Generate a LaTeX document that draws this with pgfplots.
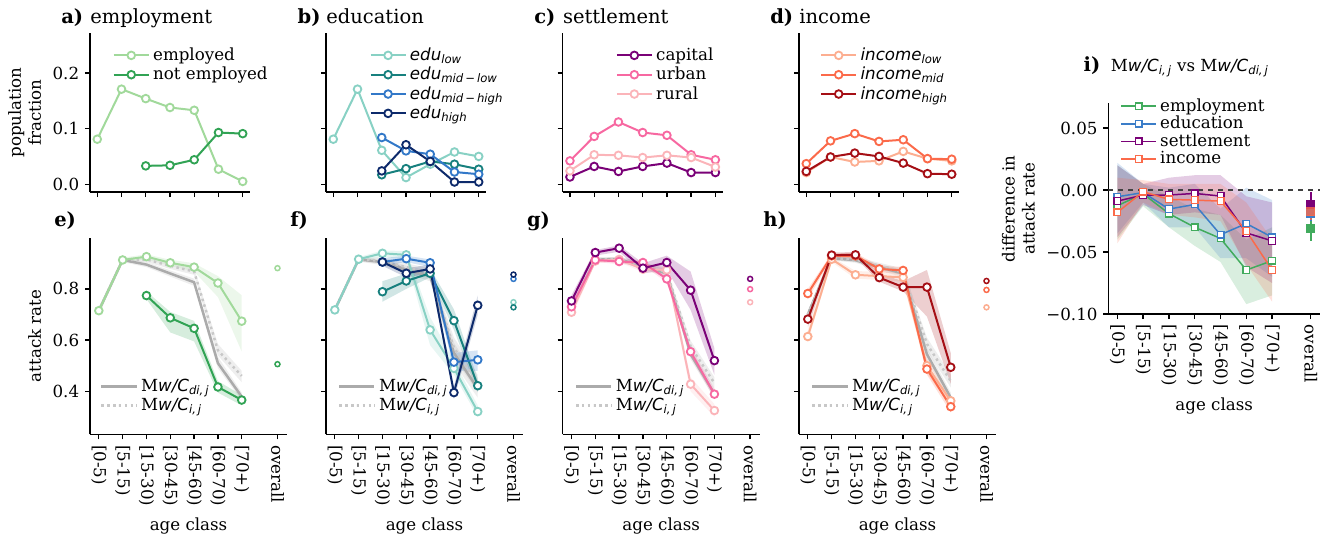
\documentclass[border=0pt]{standalone}
\usepackage{fontspec}
\setmainfont{DejaVu Serif}
\setsansfont{DejaVu Sans}
\usepackage{pgfplots}
\pgfplotsset{compat=1.18}
\usepackage{pgfplotstable}
\usepgfplotslibrary{fillbetween}

\definecolor{empA}{HTML}{A1D99B}
\definecolor{empB}{HTML}{31A354}
\definecolor{eduA}{HTML}{88D1C4}
\definecolor{eduB}{HTML}{17807E}
\definecolor{eduC}{HTML}{3278C8}
\definecolor{eduD}{HTML}{0D2A6B}
\definecolor{setA}{HTML}{7A0177}
\definecolor{setB}{HTML}{F768A1}
\definecolor{setC}{HTML}{FBB4B9}
\definecolor{incA}{HTML}{FCAE91}
\definecolor{incB}{HTML}{FB6A4A}
\definecolor{incC}{HTML}{A50F15}
\definecolor{iEmp}{HTML}{41AB5D}
\definecolor{iEdu}{HTML}{3B7DC8}
\definecolor{iSet}{HTML}{7A0177}
\definecolor{iInc}{HTML}{FB6A4A}
\definecolor{mgray}{HTML}{ABABAB}
\definecolor{lgray}{HTML}{C8C8C8}

\newcommand\lab{\fontsize{10}{12}\selectfont}
\newcommand\ttl{\fontsize{11.7}{14}\selectfont}
\newcommand\mi[1]{{\sffamily\itshape #1}}
\newcommand\MwCdi{M\mi{w/C\textsubscript{di,\,j}}}
\newcommand\MwCi{M\mi{w/C\textsubscript{i,\,j}}}

\pgfplotsset{
 every axis/.append style={scale only axis, anchor=south west, axis lines=left,
   axis line style={-, line width=0.8pt, black}, tick align=outside, major tick length=3pt,
   tick style={line width=0.8pt, black}, tick label style={font=\lab}, label style={font=\lab},
   legend style={font=\lab, draw=none, fill=none, legend cell align=left, inner sep=0pt, anchor=north west, row sep=-1.5pt},
   legend image code/.code={\draw[mark repeat=2,mark phase=2,##1] plot coordinates {(0cm,0cm) (0.37cm,0cm) (0.74cm,0cm)};}},
 toprow/.style={width=96pt, height=95.4pt, xmin=-0.3, xmax=6.3, ymin=-0.014, ymax=0.272,
   xtick={0,...,6}, xticklabels={}, ytick={0,0.1,0.2}},
 botrow/.style={width=118.2pt, height=118pt, xmin=-0.37, xmax=7.9, ymin=0.232, ymax=1.0,
   xtick={0,1,2,3,4,5,6,7.5},
   xticklabels={{[0-5)},{[5-15)},{[15-30)},{[30-45)},{[45-60)},{[60-70)},{[70+)},{overall}},
   xticklabel style={rotate=-90, anchor=west}, ytick={0.4,0.6,0.8}, xlabel={age class}},
 ln/.style={line width=1.2pt, mark=*, mark size=2.3pt, mark options={fill=white, line width=1.1pt, solid}},
 gsol/.style={color=mgray, line width=1.5pt, no marks},
 gdot/.style={color=lgray, line width=1.5pt, no marks, dash pattern=on 1.5pt off 2pt},
}
\newcommand\band[3]{%
 \addplot[draw=none, forget plot, name path=#3l] table[x=x,y=lo]{#1};
 \addplot[draw=none, forget plot, name path=#3h] table[x=x,y=hi]{#1};
 \addplot[fill=#2, fill opacity=0.2, draw=none, forget plot] fill between[of=#3l and #3h];}
\newcommand\ser[2]{\addplot[#2, ln, forget plot] table[x=x,y=y]{#1};}
\newcommand\ovr[3]{\addplot[#1, only marks, mark=*, mark size=1.5pt, mark options={fill=white, line width=0.9pt}, forget plot,
   error bars/.cd, y dir=both, y explicit, error bar style={line width=0.9pt}, error mark=none] coordinates {(7.5,#2) +- (0,#3)};}

% ---------- panel e ----------
\pgfplotstableread{
x y lo hi
0 0.715 0.700 0.730
1 0.913 0.905 0.922
2 0.926 0.915 0.935
3 0.902 0.890 0.914
4 0.885 0.868 0.900
5 0.823 0.768 0.850
6 0.674 0.555 0.775
}\Eemp
\pgfplotstableread{
x y lo hi
2 0.774 0.760 0.790
3 0.687 0.630 0.710
4 0.646 0.595 0.675
5 0.417 0.395 0.440
6 0.366 0.345 0.385
}\Enot
\pgfplotstableread{
x y lo hi
0 0.715 0.705 0.725
1 0.913 0.905 0.920
2 0.895 0.885 0.905
3 0.860 0.848 0.872
4 0.826 0.812 0.840
5 0.510 0.490 0.535
6 0.379 0.365 0.395
}\Egs
\pgfplotstableread{
x y lo hi
0 0.715 0.705 0.725
1 0.913 0.905 0.920
2 0.915 0.905 0.925
3 0.890 0.878 0.900
4 0.868 0.855 0.880
5 0.560 0.540 0.585
6 0.460 0.435 0.480
}\Egd
% ---------- panel f ----------
\pgfplotstableread{
x y lo hi
0 0.718 0.708 0.728
1 0.916 0.908 0.924
2 0.939 0.925 0.950
3 0.933 0.915 0.948
4 0.640 0.580 0.690
5 0.490 0.465 0.520
6 0.321 0.300 0.345
}\Flow
\pgfplotstableread{
x y lo hi
2 0.789 0.750 0.830
3 0.831 0.800 0.860
4 0.861 0.845 0.880
5 0.676 0.640 0.720
6 0.422 0.395 0.450
}\Fml
\pgfplotstableread{
x y lo hi
2 0.905 0.890 0.920
3 0.918 0.905 0.930
4 0.902 0.885 0.915
5 0.514 0.480 0.550
6 0.523 0.480 0.560
}\Fmh
\pgfplotstableread{
x y lo hi
2 0.905 0.890 0.920
3 0.861 0.845 0.880
4 0.878 0.860 0.895
5 0.395 0.370 0.420
6 0.736 0.700 0.775
}\Fhi
\pgfplotstableread{
x y lo hi
0 0.718 0.708 0.728
1 0.915 0.907 0.922
2 0.905 0.893 0.917
3 0.875 0.860 0.890
4 0.850 0.830 0.870
5 0.550 0.510 0.590
6 0.410 0.375 0.445
}\Fgs
\pgfplotstableread{
x y lo hi
0 0.718 0.708 0.728
1 0.915 0.907 0.922
2 0.910 0.898 0.922
3 0.885 0.870 0.900
4 0.860 0.840 0.880
5 0.570 0.530 0.610
6 0.430 0.395 0.465
}\Fgd
% ---------- panel g ----------
\pgfplotstableread{
x y lo hi
0 0.753 0.725 0.775
1 0.942 0.930 0.952
2 0.959 0.945 0.970
3 0.881 0.860 0.900
4 0.903 0.875 0.930
5 0.795 0.718 0.868
6 0.520 0.464 0.568
}\Gcap
\pgfplotstableread{
x y lo hi
0 0.730 0.715 0.745
1 0.913 0.905 0.922
2 0.907 0.897 0.917
3 0.903 0.893 0.913
4 0.839 0.825 0.852
5 0.555 0.535 0.575
6 0.389 0.370 0.410
}\Gurb
\pgfplotstableread{
x y lo hi
0 0.709 0.690 0.725
1 0.909 0.900 0.918
2 0.915 0.905 0.925
3 0.877 0.865 0.890
4 0.874 0.860 0.888
5 0.428 0.400 0.455
6 0.325 0.300 0.350
}\Grur
\pgfplotstableread{
x y lo hi
0 0.722 0.712 0.732
1 0.915 0.907 0.922
2 0.915 0.905 0.925
3 0.890 0.878 0.902
4 0.860 0.845 0.875
5 0.545 0.525 0.565
6 0.390 0.372 0.408
}\Ggs
\pgfplotstableread{
x y lo hi
0 0.722 0.712 0.732
1 0.915 0.907 0.922
2 0.915 0.905 0.925
3 0.892 0.880 0.904
4 0.866 0.852 0.880
5 0.575 0.552 0.598
6 0.432 0.410 0.455
}\Ggd
% ---------- panel h ----------
\pgfplotstableread{
x y lo hi
0 0.614 0.595 0.640
1 0.916 0.905 0.925
2 0.855 0.840 0.870
3 0.850 0.835 0.866
4 0.845 0.828 0.860
5 0.500 0.470 0.530
6 0.363 0.340 0.385
}\Hlow
\pgfplotstableread{
x y lo hi
0 0.782 0.760 0.800
1 0.929 0.920 0.938
2 0.929 0.918 0.940
3 0.878 0.865 0.890
4 0.872 0.858 0.886
5 0.487 0.465 0.510
6 0.340 0.318 0.360
}\Hmid
\pgfplotstableread{
x y lo hi
0 0.682 0.650 0.710
1 0.932 0.922 0.942
2 0.933 0.922 0.944
3 0.844 0.828 0.860
4 0.807 0.790 0.830
5 0.807 0.692 0.874
6 0.494 0.430 0.550
}\Hhi
\pgfplotstableread{
x y lo hi
0 0.700 0.685 0.715
1 0.920 0.912 0.928
2 0.912 0.902 0.922
3 0.885 0.873 0.897
4 0.860 0.845 0.875
5 0.545 0.520 0.570
6 0.375 0.355 0.395
}\Hgs
\pgfplotstableread{
x y lo hi
0 0.700 0.685 0.715
1 0.920 0.912 0.928
2 0.915 0.905 0.925
3 0.890 0.878 0.902
4 0.866 0.852 0.880
5 0.585 0.560 0.610
6 0.440 0.415 0.465
}\Hgd
% ---------- panel i ----------
\pgfplotstableread{
x y lo hi
0 -0.0126 -0.040 0.020
1 -0.003 -0.013 0.005
2 -0.019 -0.030 -0.005
3 -0.030 -0.045 -0.015
4 -0.039 -0.058 -0.020
5 -0.0645 -0.092 -0.040
6 -0.057 -0.085 -0.030
}\Iemp
\pgfplotstableread{
x y lo hi
0 -0.0054 -0.035 0.022
1 -0.002 -0.010 0.005
2 -0.0153 -0.030 0.002
3 -0.0116 -0.030 0.005
4 -0.036 -0.055 -0.015
5 -0.027 -0.055 0.002
6 -0.038 -0.070 -0.008
}\Iedu
\pgfplotstableread{
x y lo hi
0 -0.0089 -0.038 0.020
1 -0.004 -0.012 0.005
2 -0.004 -0.020 0.010
3 -0.0027 -0.018 0.012
4 -0.0048 -0.020 0.012
5 -0.0345 -0.062 -0.005
6 -0.041 -0.075 -0.010
}\Iset
\pgfplotstableread{
x y lo hi
0 -0.018 -0.043 0.010
1 -0.0013 -0.010 0.008
2 -0.0075 -0.020 0.005
3 -0.0081 -0.022 0.005
4 -0.0089 -0.025 0.005
5 -0.033 -0.060 -0.010
6 -0.0645 -0.090 -0.040
}\Iinc

\begin{document}
\begin{tikzpicture}

% ===== a =====
\begin{axis}[toprow, at={(54pt,-115.2pt)}, ylabel={population\\fraction}, ylabel style={align=center},
  yticklabels={0.0,0.1,0.2}, legend style={at={(0.14,0.93)}}]
\addplot[empA, ln] coordinates {(0,0.081)(1,0.171)(2,0.154)(3,0.138)(4,0.133)(5,0.027)(6,0.005)};
\addlegendentry{employed}
\addplot[empB, ln] coordinates {(2,0.033)(3,0.034)(4,0.044)(5,0.093)(6,0.091)};
\addlegendentry{not employed}
\end{axis}

% ===== b =====
\begin{axis}[toprow, at={(195.6pt,-115.2pt)}, yticklabels={}, legend style={at={(0.27,0.93)}}]
\addplot[eduA, ln] coordinates {(0,0.081)(1,0.171)(2,0.061)(3,0.012)(4,0.036)(5,0.058)(6,0.050)};
\addlegendentry{\mi{edu\textsubscript{low}}}
\addplot[eduB, ln] coordinates {(2,0.017)(3,0.028)(4,0.041)(5,0.036)(6,0.027)};
\addlegendentry{\mi{edu\textsubscript{mid\,−\,low}}}
\addplot[eduC, ln] coordinates {(2,0.084)(3,0.060)(4,0.054)(5,0.022)(6,0.018)};
\addlegendentry{\mi{edu\textsubscript{mid\,−\,high}}}
\addplot[eduD, ln] coordinates {(2,0.024)(3,0.071)(4,0.041)(5,0.004)(6,0.004)};
\addlegendentry{\mi{edu\textsubscript{high}}}
\end{axis}

% ===== c =====
\begin{axis}[toprow, at={(337.6pt,-115.2pt)}, yticklabels={}, legend style={at={(0.33,0.93)}}]
\addplot[setA, ln] coordinates {(0,0.013)(1,0.032)(2,0.023)(3,0.032)(4,0.038)(5,0.021)(6,0.021)};
\addlegendentry{capital}
\addplot[setB, ln] coordinates {(0,0.042)(1,0.086)(2,0.112)(3,0.093)(4,0.088)(5,0.053)(6,0.044)};
\addlegendentry{urban}
\addplot[setC, ln] coordinates {(0,0.024)(1,0.053)(2,0.052)(3,0.048)(4,0.052)(5,0.048)(6,0.031)};
\addlegendentry{rural}
\end{axis}

% ===== d =====
\begin{axis}[toprow, at={(479.4pt,-115.2pt)}, yticklabels={}, legend style={at={(0.13,0.93)}}]
\addplot[incA, ln] coordinates {(0,0.021)(1,0.049)(2,0.040)(3,0.042)(4,0.059)(5,0.046)(6,0.042)};
\addlegendentry{\mi{income\textsubscript{low}}}
\addplot[incB, ln] coordinates {(0,0.037)(1,0.078)(2,0.091)(3,0.077)(4,0.080)(5,0.046)(6,0.045)};
\addlegendentry{\mi{income\textsubscript{mid}}}
\addplot[incC, ln] coordinates {(0,0.023)(1,0.049)(2,0.056)(3,0.050)(4,0.038)(5,0.019)(6,0.018)};
\addlegendentry{\mi{income\textsubscript{high}}}
\end{axis}

% ===== e =====
\begin{axis}[botrow, at={(54pt,-260.6pt)}, ylabel={attack rate}, yticklabels={0.4,0.6,0.8},
  legend style={at={(0.05,0.30)}}]
\band{\Egs}{mgray}{egs}
\band{\Egd}{mgray}{egd}
\band{\Eemp}{empA}{ea}
\band{\Enot}{empB}{eb}
\addplot[gsol] table[x=x,y=y]{\Egs}; \addlegendentry{\MwCdi}
\addplot[gdot] table[x=x,y=y]{\Egd}; \addlegendentry{\MwCi}
\ser{\Eemp}{empA}
\ser{\Enot}{empB}
\ovr{empA}{0.881}{0.004}
\ovr{empB}{0.506}{0.010}
\end{axis}

% ===== f =====
\begin{axis}[botrow, at={(195.6pt,-260.6pt)}, yticklabels={}, legend style={at={(0.06,0.30)}}]
\band{\Fgs}{mgray}{fgs}
\band{\Fgd}{mgray}{fgd}
\band{\Flow}{eduA}{fa}
\band{\Fml}{eduB}{fb}
\band{\Fmh}{eduC}{fc}
\band{\Fhi}{eduD}{fd}
\addplot[gsol] table[x=x,y=y]{\Fgs}; \addlegendentry{\MwCdi}
\addplot[gdot] table[x=x,y=y]{\Fgd}; \addlegendentry{\MwCi}
\ser{\Flow}{eduA}
\ser{\Fml}{eduB}
\ser{\Fmh}{eduC}
\ser{\Fhi}{eduD}
\ovr{eduA}{0.748}{0.005}
\ovr{eduB}{0.728}{0.010}
\ovr{eduC}{0.839}{0.005}
\ovr{eduD}{0.856}{0.005}
\end{axis}

% ===== g =====
\begin{axis}[botrow, at={(337.6pt,-260.6pt)}, yticklabels={}, legend style={at={(0.06,0.30)}}]
\band{\Ggs}{mgray}{ggs}
\band{\Ggd}{mgray}{ggd}
\band{\Gcap}{setA}{ga}
\band{\Gurb}{setB}{gb}
\band{\Grur}{setC}{gc}
\addplot[gsol] table[x=x,y=y]{\Ggs}; \addlegendentry{\MwCdi}
\addplot[gdot] table[x=x,y=y]{\Ggd}; \addlegendentry{\MwCi}
\ser{\Grur}{setC}
\ser{\Gurb}{setB}
\ser{\Gcap}{setA}
\ovr{setA}{0.839}{0.008}
\ovr{setB}{0.799}{0.004}
\ovr{setC}{0.748}{0.004}
\end{axis}

% ===== h =====
\begin{axis}[botrow, at={(479.4pt,-260.6pt)}, yticklabels={}, legend style={at={(0.06,0.30)}}]
\band{\Hgs}{mgray}{hgs}
\band{\Hgd}{mgray}{hgd}
\band{\Hlow}{incA}{ha}
\band{\Hmid}{incB}{hb}
\band{\Hhi}{incC}{hc}
\addplot[gsol] table[x=x,y=y]{\Hgs}; \addlegendentry{\MwCdi}
\addplot[gdot] table[x=x,y=y]{\Hgd}; \addlegendentry{\MwCi}
\ser{\Hlow}{incA}
\ser{\Hmid}{incB}
\ser{\Hhi}{incC}
\ovr{incC}{0.831}{0.004}
\ovr{incB}{0.796}{0.004}
\ovr{incA}{0.728}{0.004}
\end{axis}

% ===== i =====
\begin{axis}[width=127pt, height=126.4pt, at={(665pt,-188.4pt)}, xmin=-0.35, xmax=7.86, ymin=-0.1, ymax=0.07,
  xtick={0,1,2,3,4,5,6,7.5},
  xticklabels={{[0-5)},{[5-15)},{[15-30)},{[30-45)},{[45-60)},{[60-70)},{[70+)},{overall}},
  xticklabel style={rotate=-90, anchor=west}, ytick={-0.1,-0.05,0,0.05},
  yticklabels={−0.10,−0.05,0.00,0.05}, xlabel={age class}, ylabel={difference in\\attack rate},
  ylabel style={align=center}, legend style={at={(0.055,1.04)}, row sep=-2.5pt}]
\band{\Iemp}{iEmp}{ia}
\band{\Iedu}{iEdu}{ib}
\band{\Iset}{iSet}{ic}
\band{\Iinc}{iInc}{id}
\addplot[black!75, dashed, line width=0.8pt, forget plot] coordinates {(-0.35,0)(7.86,0)};
\addplot[iEmp, line width=0.9pt, mark=square*, mark size=2pt, mark options={fill=white, line width=0.8pt}] table[x=x,y=y]{\Iemp};
\addlegendentry{employment}
\addplot[iEdu, line width=0.9pt, mark=square*, mark size=2pt, mark options={fill=white, line width=0.8pt}] table[x=x,y=y]{\Iedu};
\addlegendentry{education}
\addplot[iSet, line width=0.9pt, mark=square*, mark size=2pt, mark options={fill=white, line width=0.8pt}] table[x=x,y=y]{\Iset};
\addlegendentry{settlement}
\addplot[iInc, line width=0.9pt, mark=square*, mark size=2pt, mark options={fill=white, line width=0.8pt}] table[x=x,y=y]{\Iinc};
\addlegendentry{income}
\addplot[iEmp, only marks, mark=square*, mark size=2.4pt, forget plot, error bars/.cd, y dir=both, y explicit, error bar style={line width=1.3pt}, error mark=none] coordinates {(7.5,-0.031) +- (0,0.010)};
\addplot[iEdu, only marks, mark=square*, mark size=2.4pt, forget plot, error bars/.cd, y dir=both, y explicit, error bar style={line width=1.3pt}, error mark=none] coordinates {(7.5,-0.019) +- (0,0.006)};
\addplot[iSet, only marks, mark=square*, mark size=2.4pt, forget plot, error bars/.cd, y dir=both, y explicit, error bar style={line width=1.3pt}, error mark=none] coordinates {(7.5,-0.0113) +- (0,0.010)};
\addplot[iInc, only marks, mark=square*, mark size=2.4pt, opacity=0.8, forget plot, error bars/.cd, y dir=both, y explicit, error bar style={line width=1.3pt}, error mark=none] coordinates {(7.5,-0.0175) +- (0,0.007)};
\end{axis}

% ===== titles =====
\begin{scope}[every node/.style={inner sep=0pt, font=\ttl}]
\node[anchor=base west, font=\ttl\bfseries] at (36.6pt,-13.8pt) {a)};
\node[anchor=base west] at (54pt,-13.8pt) {employment};
\node[anchor=base west, font=\ttl\bfseries] at (178.4pt,-13.8pt) {b)};
\node[anchor=base west] at (195.6pt,-13.8pt) {education};
\node[anchor=base west, font=\ttl\bfseries] at (320.4pt,-13.8pt) {c)};
\node[anchor=base west] at (337.6pt,-13.8pt) {settlement};
\node[anchor=base west, font=\ttl\bfseries] at (462pt,-13.8pt) {d)};
\node[anchor=base west] at (479.4pt,-13.8pt) {income};
\node[anchor=base west, font=\ttl\bfseries] at (32.4pt,-135.6pt) {e)};
\node[anchor=base west, font=\ttl\bfseries] at (174pt,-135.6pt) {f)};
\node[anchor=base west, font=\ttl\bfseries] at (316pt,-135.6pt) {g)};
\node[anchor=base west, font=\ttl\bfseries] at (457.8pt,-135.6pt) {h)};
\node[anchor=base west, font=\lab] at (650pt,-43pt) {\textbf{\ttl i)}\ \ \MwCi{} vs \MwCdi};
\end{scope}
\pgfresetboundingbox
\path[use as bounding box] (0,0) rectangle (797.4pt,-319.8pt);
\end{tikzpicture}
\end{document}
